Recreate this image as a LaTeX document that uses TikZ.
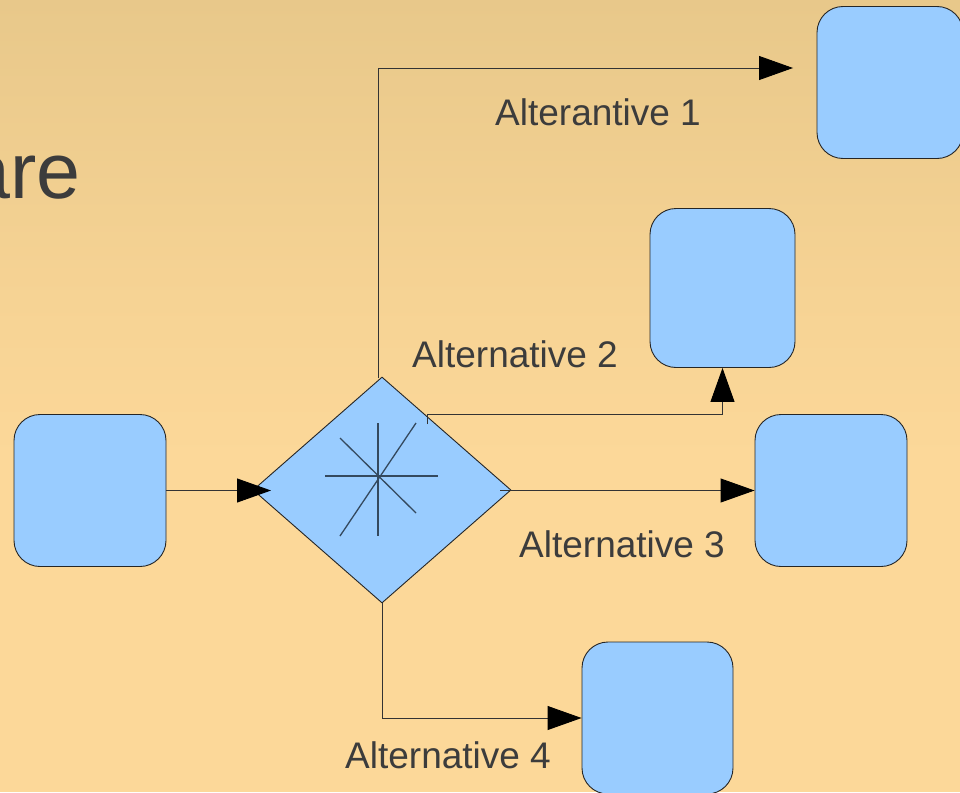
\documentclass[tikz,border=0pt]{standalone}
\usepackage{fontspec}
\setmainfont{Liberation Sans}
\usetikzlibrary{shapes.geometric,arrows.meta}
\definecolor{bgtop}{HTML}{E8C88A}
\definecolor{bgmid}{HTML}{F6D394}
\definecolor{bgbot}{HTML}{FCD899}
\definecolor{boxblue}{HTML}{99CCFF}
\definecolor{txtgray}{HTML}{3C3C3C}
\definecolor{starline}{HTML}{34495E}
\tikzset{
  flowbox/.style={draw=black!85, line width=0.9pt, fill=boxblue, rounded corners=26pt,
    minimum width=152pt, minimum height=152pt, inner sep=0pt},
  decision/.style={diamond, draw=black!85, line width=0.9pt, fill=boxblue, inner sep=0pt,
    minimum width=258pt, minimum height=226pt},
  conn/.style={draw=black!80, line width=0.9pt, -{Triangle[length=34pt,width=24pt,color=black,fill=black]}},
  plain/.style={draw=black!80, line width=0.9pt},
  altlabel/.style={text=txtgray, font=\fontsize{37}{44}\selectfont, inner sep=0pt, anchor=base west},
  starstroke/.style={draw=starline, line width=1.3pt}
}
\begin{document}
\begin{tikzpicture}[x=1pt,y=-1pt]
\useasboundingbox (0,0) rectangle (960,792);
\shade[top color=bgtop, bottom color=bgmid] (0,0) rectangle (960,300);
\shade[top color=bgmid, bottom color=bgbot] (0,299.5) rectangle (960,460);
\fill[bgbot] (0,459.5) rectangle (960,792);

\node[text=txtgray, font=\fontsize{79}{90}\selectfont, inner sep=0pt, anchor=base east] (title) at (81,198) {are};

% boxes
\node[flowbox] (src) at (90,490.5) {};
\node[flowbox, minimum width=146pt] (b1) at (890,82.5) {};
\node[flowbox, minimum width=145pt, minimum height=159pt] (b2) at (722.5,288) {};
\node[flowbox] (b3) at (831,490.5) {};
\node[flowbox, minimum width=151pt] (b4) at (657.5,718) {};

% decision
\node[decision] (dec) at (382,490) {};
\draw[starstroke] (325,476) -- (438,476);
\draw[starstroke] (378,423) -- (378,536);
\draw[starstroke] (340,438) -- (416,513);
\draw[starstroke] (340,536) -- (416,423);

% coordinates
\coordinate (inA) at (271,490.5);
\coordinate (s1) at (378,378);
\coordinate (t1) at (793,68);
\coordinate (s2) at (427,424);
\coordinate (k2) at (427,414);
\coordinate (s3) at (500,490.5);

% connectors
\draw[conn] (src.east) -- (inA);
\draw[conn] (s1) |- (t1);
\draw[conn] (s2) -- (k2) -| (b2.south);
\draw[conn] (s3) -- (b3.west);
\draw[conn] (dec.south) |- (b4.west);

% labels
\node[altlabel] (l1) at (495,125) {Alterantive 1};
\node[altlabel] (l2) at (412,367) {Alternative 2};
\node[altlabel] (l3) at (519,557) {Alternative 3};
\node[altlabel] (l4) at (345,768) {Alternative 4};
\end{tikzpicture}
\end{document}
